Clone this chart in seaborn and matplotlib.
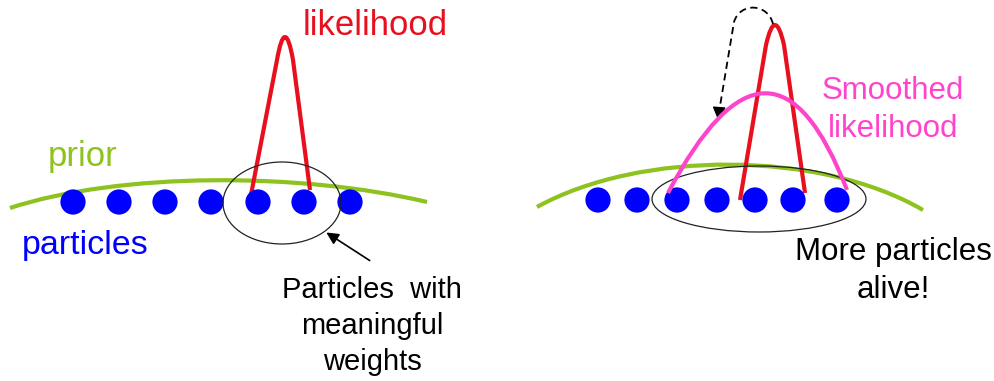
import numpy as np
import pandas as pd
import matplotlib
matplotlib.use("Agg")
import matplotlib.pyplot as plt
from matplotlib.path import Path
from matplotlib.patches import PathPatch, Ellipse
import seaborn as sns

# Colours
RED = "#E8101E"
GREEN = "#8DC21F"
BLUE = "#0000FF"
PINK = "#FF44CC"

# Left panel: prior curve (cubic control points), particles, likelihood
prior_left_ctrl = [(10, 208), (120, 172), (300, 172), (427, 202)]
particles_left_x = [73, 119, 165, 211, 258, 304, 350]
particles_left_y = [202, 202, 202, 202, 202, 202, 202]
# leg, rounded tip, leg
lik_left_ctrl = [(250, 200), (277, 60), (285, 14), (293, 60), (310, 190)]
ellipse_left = (282, 203, 118, 82)

# Right panel
prior_right_ctrl = [(537, 207), (640, 150), (820, 150), (923, 210)]
particles_right_x = [598, 637, 677, 717, 755, 793, 837]
particles_right_y = [200, 200, 200, 200, 200, 200, 200]
lik_right_ctrl = [(740, 200), (766, 45), (775, 5), (784, 45), (805, 193)]
smooth_ctrl = [(668, 193), (772, -5), (847, 190)]
ellipse_right = (759, 199, 214, 66)
dashed_ctrl = [(773, 24), (768, 3), (740, 2), (734, 22), (719, 112)]

CUBIC = [Path.MOVETO, Path.CURVE4, Path.CURVE4, Path.CURVE4]
QUAD = [Path.MOVETO, Path.CURVE3, Path.CURVE3]
PEAK = [Path.MOVETO, Path.LINETO, Path.CURVE3, Path.CURVE3, Path.LINETO]


def curve(ax, pts, codes, color, lw, z=2, ls="-"):
    patch = PathPatch(Path(pts, codes), fill=False, edgecolor=color, lw=lw,
                      ls=ls, zorder=z, capstyle="butt", joinstyle="round")
    ax.add_patch(patch)


sns.set_theme(style="white")
plt.rcParams["font.family"] = ["Liberation Sans", "DejaVu Sans"]

fig = plt.figure(figsize=(9.95, 3.81), dpi=100)
ax = fig.add_axes([0, 0, 1, 1])
ax.set_xlim(0, 995)
ax.set_ylim(381, 0)
ax.axis("off")

# prior curves
curve(ax, prior_left_ctrl, CUBIC, GREEN, 3, z=1)
curve(ax, prior_right_ctrl, CUBIC, GREEN, 3, z=1)

# likelihoods
curve(ax, lik_left_ctrl, PEAK, RED, 3)
curve(ax, lik_right_ctrl, PEAK, RED, 3)
curve(ax, smooth_ctrl, QUAD, PINK, 3, z=4)

# particles
parts = pd.DataFrame({"x": particles_left_x + particles_right_x,
                      "y": particles_left_y + particles_right_y})
sns.scatterplot(data=parts, x="x", y="y", s=330, color=BLUE, edgecolor="none", ax=ax, zorder=3)
ax.set_xlabel("")
ax.set_ylabel("")

# ellipses
for cx, cy, w, h in [ellipse_left, ellipse_right]:
    ax.add_patch(Ellipse((cx, cy), w, h, fill=False, edgecolor="#222222", lw=0.9, zorder=3.5))

# arrow to left ellipse
ax.annotate("", xy=(324, 231), xytext=(372, 262),
            arrowprops=dict(arrowstyle="-|>", color="black", lw=1.2, mutation_scale=18))

# dashed curved arrow
codes = [Path.MOVETO, Path.CURVE4, Path.CURVE4, Path.CURVE4, Path.LINETO]
curve(ax, dashed_ctrl, codes, "black", 1.3, ls=(0, (4, 2.5)))
ax.annotate("", xy=(718, 123), xytext=(719, 110),
            arrowprops=dict(arrowstyle="-|>", color="black", lw=1, mutation_scale=20))

# labels
ax.text(303, 35, "likelihood", color=RED, fontsize=25, va="baseline", ha="left")
ax.text(48, 166, "prior", color=GREEN, fontsize=25, va="baseline", ha="left")
ax.text(22, 254, "particles", color=BLUE, fontsize=24.5, va="baseline", ha="left")
for txt, yb in [("Particles  with", 298), ("meaningful", 334), ("weights", 370)]:
    ax.text(372, yb, txt, color="black", fontsize=21, va="baseline", ha="center")
for txt, yb in [("Smoothed", 99), ("likelihood", 137)]:
    ax.text(893, yb, txt, color=PINK, fontsize=22.5, va="baseline", ha="center")
for txt, yb in [("More particles", 260), ("alive!", 298)]:
    ax.text(893, yb, txt, color="black", fontsize=22.5, va="baseline", ha="center")

fig.savefig("out.png", dpi=100, facecolor="white")
